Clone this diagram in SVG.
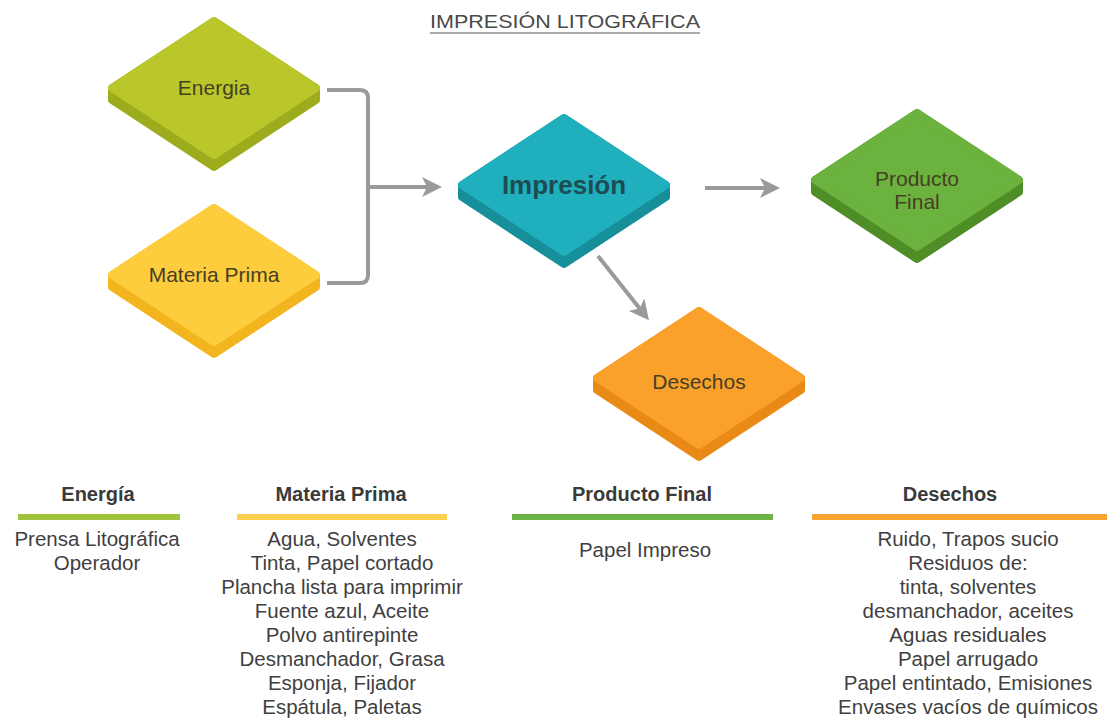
<svg xmlns="http://www.w3.org/2000/svg" width="1107" height="721" viewBox="0 0 1107 721">
  <style>
    .lbl { font-family: "Liberation Sans", Arial, sans-serif; font-size: 21px; fill: #463f26; text-anchor: middle; }
    .big { font-family: "Liberation Sans", Arial, sans-serif; font-size: 26px; font-weight: bold; fill: #1d4d52; text-anchor: middle; }
    .title { font-family: "Liberation Sans", Arial, sans-serif; font-size: 19px; fill: #4a4a4a; text-anchor: middle; }
    .head { font-family: "Liberation Sans", Arial, sans-serif; font-size: 20px; font-weight: bold; fill: #3a3a3a; text-anchor: middle; }
    .item { font-family: "Liberation Sans", Arial, sans-serif; font-size: 20.5px; fill: #3f3f3f; text-anchor: middle; }
    .conn { fill: none; stroke: #9a9a9a; stroke-width: 4; stroke-linejoin: round; }
    .face, .base { stroke-width: 8; stroke-linejoin: round; }
  </style>
  <defs>
    <path id="base" d="M0,-67 L102,0 L102,12 L0,79 L-102,12 L-102,0 Z"/>
    <path id="face" d="M0,-67 L102,0 L0,67 L-102,0 Z"/>
    <marker id="arrow" viewBox="0 0 10 10" refX="6" refY="5" markerWidth="5" markerHeight="5" orient="auto" markerUnits="strokeWidth">
      <path d="M0,0 L10,5 L0,10 L2.5,5 Z" fill="#9a9a9a"/>
    </marker>
  </defs>
  <rect width="1107" height="721" fill="#ffffff"/>

  <!-- title -->
  <text class="title" x="565" y="28" textLength="270" lengthAdjust="spacingAndGlyphs">IMPRESIÓN LITOGRÁFICA</text>
  <line x1="430" y1="33" x2="700" y2="33" stroke="#555" stroke-width="1.2"/>

  <!-- connectors -->
  <g id="connectors">
    <path class="conn" d="M327,90 H360 Q368,90 368,98 V275 Q368,283 360,283 H327"/>
    <path class="conn" d="M368,187 H434" marker-end="url(#arrow)"/>
    <path class="conn" d="M705,188 H772" marker-end="url(#arrow)"/>
    <path class="conn" d="M598,256 L644,314" marker-end="url(#arrow)"/>
  </g>

  <!-- nodes -->
  <g id="energia" transform="translate(214,88)">
    <use href="#base" fill="#9cac1d" stroke="#9cac1d" class="base"/>
    <use href="#face" fill="#bac72b" stroke="#bac72b" class="face"/>
    <text class="lbl" x="0" y="7">Energia</text>
  </g>

  <g id="materia-prima" transform="translate(214,275)">
    <use href="#base" fill="#f2b51e" stroke="#f2b51e" class="base"/>
    <use href="#face" fill="#fdcd3d" stroke="#fdcd3d" class="face"/>
    <text class="lbl" x="0" y="7">Materia Prima</text>
  </g>

  <g id="impresion" transform="translate(564,185)">
    <use href="#base" fill="#168f9b" stroke="#168f9b" class="base"/>
    <use href="#face" fill="#20b0bd" stroke="#20b0bd" class="face"/>
    <text class="big" x="0" y="9">Impresión</text>
  </g>

  <g id="producto-final" transform="translate(917,180)">
    <use href="#base" fill="#4f8e27" stroke="#4f8e27" class="base"/>
    <use href="#face" fill="#6cb23e" stroke="#6cb23e" class="face"/>
    <text class="lbl" x="0" y="6" fill="#2f4a1f">Producto</text>
    <text class="lbl" x="0" y="29">Final</text>
  </g>

  <g id="desechos" transform="translate(699,378)">
    <use href="#base" fill="#ea8a16" stroke="#ea8a16" class="base"/>
    <use href="#face" fill="#f9a12a" stroke="#f9a12a" class="face"/>
    <text class="lbl" x="0" y="11">Desechos</text>
  </g>

  <!-- legend columns -->
  <g id="legend-energia">
    <text class="head" x="98" y="501">Energía</text>
    <rect x="18" y="514" width="162" height="6" fill="#9fc33b"/>
    <text class="item" x="97" y="546">Prensa Litográfica</text>
    <text class="item" x="97" y="570">Operador</text>
  </g>

  <g id="legend-materia">
    <text class="head" x="341" y="501">Materia Prima</text>
    <rect x="237" y="514" width="210" height="6" fill="#fcd04d"/>
    <text class="item" x="342" y="546">Agua, Solventes</text>
    <text class="item" x="342" y="570">Tinta, Papel cortado</text>
    <text class="item" x="342" y="594">Plancha lista para imprimir</text>
    <text class="item" x="342" y="618">Fuente azul, Aceite</text>
    <text class="item" x="342" y="642">Polvo antirepinte</text>
    <text class="item" x="342" y="666">Desmanchador, Grasa</text>
    <text class="item" x="342" y="690">Esponja, Fijador</text>
    <text class="item" x="342" y="714">Espátula, Paletas</text>
  </g>

  <g id="legend-producto">
    <text class="head" x="642" y="501">Producto Final</text>
    <rect x="512" y="514" width="261" height="6" fill="#6db245"/>
    <text class="item" x="645" y="557">Papel Impreso</text>
  </g>

  <g id="legend-desechos">
    <text class="head" x="950" y="501">Desechos</text>
    <rect x="812" y="514" width="295" height="6" fill="#f8a332"/>
    <text class="item" x="968" y="546">Ruido, Trapos sucio</text>
    <text class="item" x="968" y="570">Residuos de:</text>
    <text class="item" x="968" y="594">tinta, solventes</text>
    <text class="item" x="968" y="618">desmanchador, aceites</text>
    <text class="item" x="968" y="642">Aguas residuales</text>
    <text class="item" x="968" y="666">Papel arrugado</text>
    <text class="item" x="968" y="690">Papel entintado, Emisiones</text>
    <text class="item" x="968" y="714">Envases vacíos de químicos</text>
  </g>
</svg>
